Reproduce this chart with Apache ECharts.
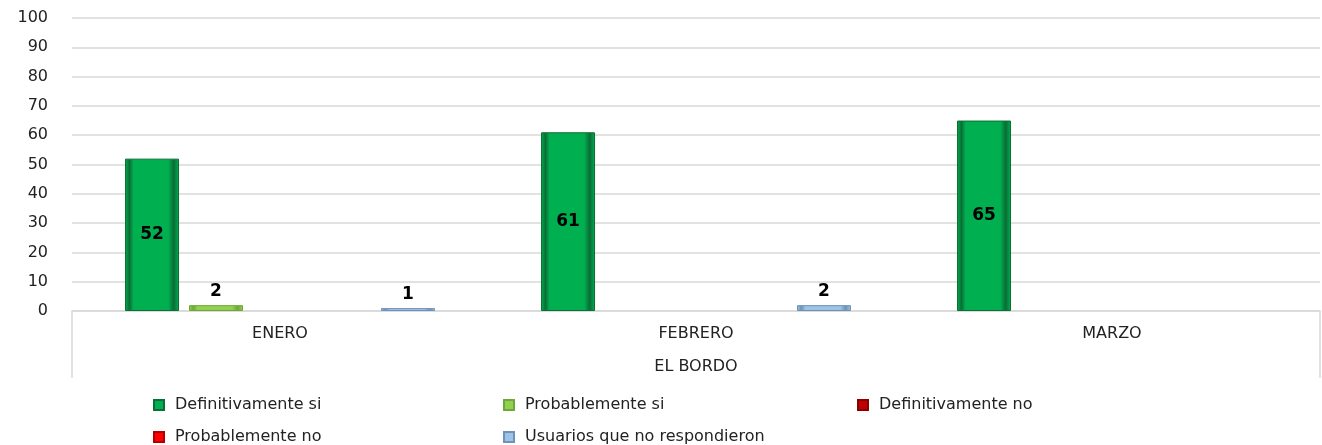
<!DOCTYPE html>
<html>
<head>
<meta charset="utf-8">
<script src="https://cdn.jsdelivr.net/npm/echarts@6/dist/echarts.min.js"></script>
<style>html,body{margin:0;padding:0;background:#fff}#c{width:1322px;height:445px}</style>
</head>
<body>
<div id="c"></div>
<script>
var categories = ['ENERO', 'FEBRERO', 'MARZO'];
var groupLabel = ['EL BORDO'];
var seriesNames = ['Definitivamente si', 'Probablemente si', 'Definitivamente no', 'Probablemente no', 'Usuarios que no respondieron'];
var defSi = [52, 61, 65];
var probSi = [2, 0, 0];
var defNo = [0, 0, 0];
var probNo = [0, 0, 0];
var noResp = [1, 2, 0];
var yTicks = [0, 10, 20, 30, 40, 50, 60, 70, 80, 90, 100];

var values = [defSi, probSi, defNo, probNo, noResp];
var colors = ['#00b050', '#92d050', '#c00000', '#ff0000', '#9dc3e6'];
var borders = ['#0a6e35', '#6ea83a', '#8a0000', '#b30000', '#6f93b8'];

function buildData(arr) {
  return arr.map(function (v) {
    var item = { value: v, label: { position: v > 10 ? 'inside' : 'top' } };
    if (v === 0) { item.itemStyle = { borderWidth: 0, opacity: 0 }; }
    return item;
  });
}

var series = values.map(function (arr, i) {
  return {
    name: seriesNames[i],
    type: 'bar',
    xAxisIndex: 0,
    barWidth: 54,
    barGap: '18.5%',
    data: buildData(arr),
    itemStyle: {
      color: {
        type: 'linear', x: 0, y: 0, x2: 1, y2: 0,
        colorStops: [
          { offset: 0, color: colors[i] },
          { offset: 0.08, color: borders[i] },
          { offset: 0.16, color: colors[i] },
          { offset: 0.80, color: colors[i] },
          { offset: 0.90, color: borders[i] },
          { offset: 1, color: colors[i] }
        ]
      },
      borderColor: borders[i],
      borderWidth: 1
    },
    label: {
      show: true,
      formatter: function (p) { return p.value === 0 ? '' : String(p.value); },
      color: '#000',
      fontFamily: 'DejaVu Sans',
      fontWeight: 'bold',
      fontSize: 17
    }
  };
});

var legendPos = [
  { left: 153, top: 397 },
  { left: 503, top: 397 },
  { left: 857, top: 397 },
  { left: 153, top: 429 },
  { left: 503, top: 429 }
];
var legends = seriesNames.map(function (n, i) {
  return {
    left: legendPos[i].left, top: legendPos[i].top, padding: 0,
    itemWidth: 10, itemHeight: 10, icon: 'rect', selectedMode: false,
    data: [n],
    textStyle: { color: '#222', fontFamily: 'DejaVu Sans', fontSize: 16, padding: [0, 0, 0, 6] }
  };
});

var option = {
  animation: false,
  color: colors,
  grid: { left: 72, right: 2, top: 18, bottom: 134, containLabel: false },
  legend: legends,
  xAxis: [
    {
      type: 'category',
      data: categories,
      position: 'bottom',
      axisLine: { show: true, lineStyle: { color: '#d9d9d9', width: 1.5 } },
      axisTick: { show: false },
      axisLabel: { color: '#222', fontFamily: 'DejaVu Sans', fontSize: 16, margin: 15 }
    },
    {
      type: 'category',
      data: groupLabel,
      position: 'bottom',
      axisLine: { show: false },
      axisTick: { show: true, length: 67, lineStyle: { color: '#d9d9d9', width: 1.5 } },
      axisLabel: { color: '#222', fontFamily: 'DejaVu Sans', fontSize: 16, margin: 48 }
    }
  ],
  yAxis: {
    type: 'value',
    min: 0,
    max: 100,
    interval: 10,
    axisLine: { show: false },
    axisTick: { show: false },
    splitLine: { lineStyle: { color: '#d9d9d9', width: 1.5 } },
    axisLabel: {
      color: '#222', fontFamily: 'DejaVu Sans', fontSize: 16, margin: 24,
      formatter: function (v) { return yTicks.indexOf(v) >= 0 ? String(v) : ''; }
    }
  },
  series: series
};

var chart = echarts.init(document.getElementById('c'));
chart.setOption(option);
</script>
</body>
</html>
